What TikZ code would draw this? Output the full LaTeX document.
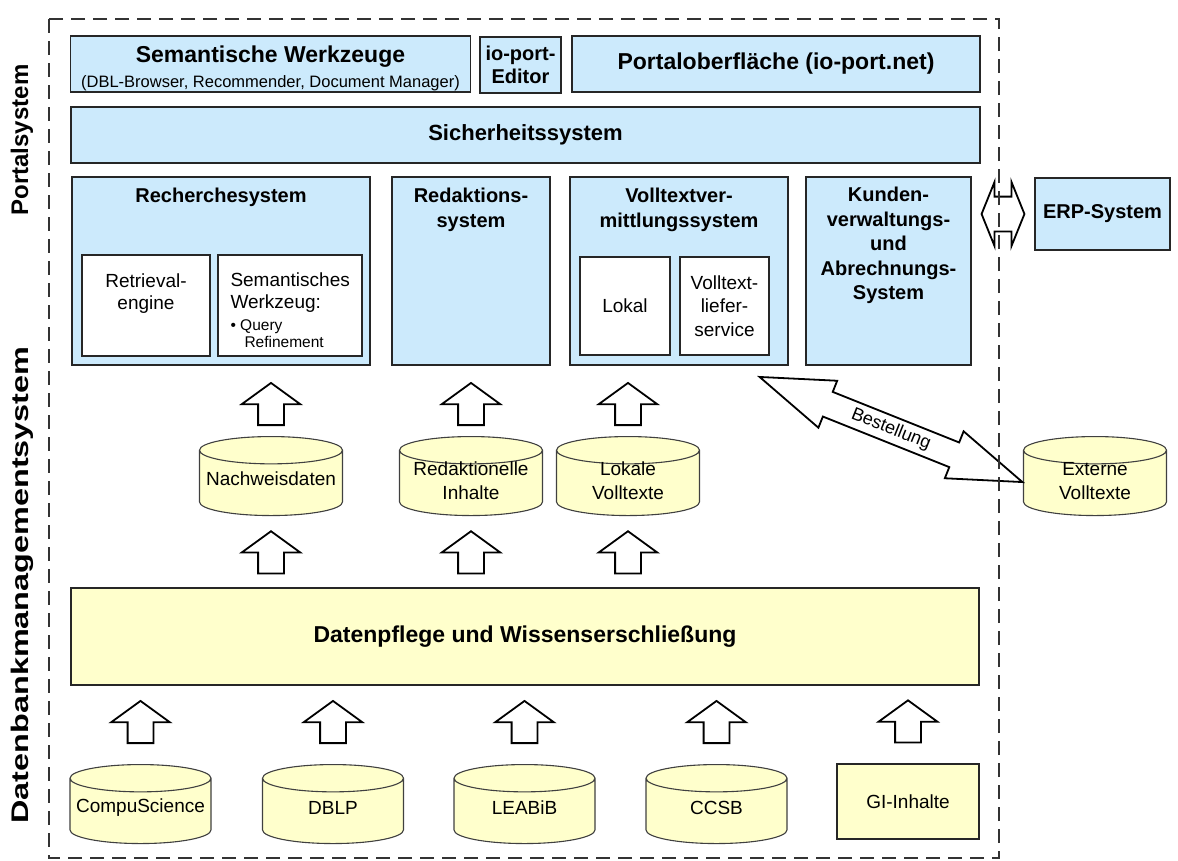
\documentclass[tikz,border=0pt]{standalone}
\usepackage{fontspec}
\setmainfont{Liberation Sans}
\usepackage{graphicx}
\usetikzlibrary{arrows.meta, positioning, shapes.geometric, shapes.arrows, calc}
\definecolor{portalblue}{RGB}{204,234,252}
\definecolor{dbyellow}{RGB}{255,255,204}
\newcommand\dbsize{\phantom{\rule[-4pt]{130pt}{18pt}}}

\begin{document}
\begin{tikzpicture}[x=1pt, y=-1pt,
		box/.style={draw=black!85, line width=1.4pt, fill=portalblue, inner sep=0pt},
		inbox/.style={draw=black!85, line width=1.4pt, fill=white, inner sep=0pt},
		db/.style={cylinder, shape border rotate=90, aspect=0.21, draw=black!75, line width=1.1pt,
			fill=dbyellow, minimum width=143pt, minimum height=79pt, inner sep=0pt, anchor=north},
		uparr/.style={single arrow, rotate=90, draw, line width=1.8pt, fill=white, anchor=tail,
			inner xsep=15.5pt, inner ysep=12pt, single arrow head extend=16.5pt, single arrow tip angle=108},
		bigtxt/.style={font=\fontsize{23}{26}\selectfont\bfseries, align=center},
		headtxt/.style={font=\fontsize{20}{24.5}\selectfont\bfseries, align=center, inner sep=0pt},
		txt/.style={font=\fontsize{19}{22}\selectfont, align=center, inner sep=0pt}]
	
	\useasboundingbox (0,0) rectangle (1178,860);
	
	% Portalsystem
	\node[box, minimum width=400pt, minimum height=56pt] (semw) at (270.5,64) {};
	\node[bigtxt, inner sep=0pt] (semwt) at ([yshift=-4pt]semw.center)
		{Semantische Werkzeuge\\[-1pt]{\fontsize{16.5}{19}\mdseries\selectfont (DBL-Browser, Recommender, Document Manager)}};
	\node[box, font=\fontsize{20}{22.5}\selectfont\bfseries, align=center, minimum width=81pt, minimum height=56pt] (edit) at (520.5,65) {io-port-\\Editor};
	\node[box, bigtxt, minimum width=408pt, minimum height=56pt] (portal) at (776,64) {Portaloberfläche (io-port.net)};
	\node[box, font=\fontsize{22}{26}\selectfont\bfseries, minimum width=909pt, minimum height=56pt] (sicher) at (525.5,135) {Sicherheitssystem};
	
	\node[box, minimum width=298pt, minimum height=188pt] (recher) at (221,271) {};
	\node[headtxt, below=12pt of recher.north] (rechert) {Recherchesystem};
	\node[inbox, minimum width=128pt, minimum height=101pt] (retr) at (146,305.5) {};
	\node[txt, below=19pt of retr.north] (retrt) {Retrieval-\\engine};
	\node[inbox, minimum width=144pt, minimum height=101pt] (semz) at (290,305.5) {};
	\node[txt, align=left, anchor=north west] (semzt) at ([xshift=13pt, yshift=-18pt]semz.north west)
		{Semantisches\\Werkzeug:\\{\fontsize{15.5}{18}\selectfont • Query}\\[-5pt]{\fontsize{15.5}{18}\selectfont\hspace*{14pt}Refinement}};
	
	\node[box, minimum width=158pt, minimum height=188pt] (redak) at (471,271) {};
	\node[headtxt, below=12pt of redak.north] (redakt) {Redaktions-\\system};
	
	\node[box, minimum width=218pt, minimum height=188pt] (vollt) at (679,271) {};
	\node[headtxt, below=12pt of vollt.north] (volltt) {Volltextver-\\mittlungssystem};
	\node[inbox, txt, minimum width=90pt, minimum height=98pt] (lokal) at (625,306) {Lokal};
	\node[inbox, txt, font=\fontsize{19}{23.5}\selectfont, minimum width=89pt, minimum height=98pt] (liefer) at (724.5,306) {Volltext-\\liefer-\\service};
	
	\node[box, minimum width=165pt, minimum height=188pt] (kunden) at (888.5,271) {};
	\node[headtxt, below=11pt of kunden.north] (kundent) {Kunden-\\verwaltungs-\\und\\Abrechnungs-\\System};
	
	\node[box, headtxt, minimum width=135pt, minimum height=72pt] (erp) at (1102.5,214) {ERP-System};
	\node[double arrow, draw, line width=1.8pt, fill=white, inner xsep=13.5pt, inner ysep=16.5pt,
		double arrow head extend=14.5pt, double arrow tip angle=136] (erparr)
		at ($(kunden.east |- erp.west)!0.5!(erp.west)$) {};
	
	% Datenbankmanagementsystem
	\node[db] (nw) at (271,436) {\dbsize};
	\node[db] (redin) at (471,436) {\dbsize};
	\node[db] (lokvt) at (628,436) {\dbsize};
	\node[db] (ext) at (1095,436) {\dbsize};
	\node[txt] (nwt) at ([yshift=-3pt]$(nw.north)!0.5!(nw.south)$) {Nachweisdaten};
	\node[txt, font=\fontsize{19}{24}\selectfont] (redint) at ([yshift=-5pt]$(redin.north)!0.5!(redin.south)$) {Redaktionelle\\Inhalte};
	\node[txt, font=\fontsize{19}{24}\selectfont] (lokvtt) at ([yshift=-5pt]$(lokvt.north)!0.5!(lokvt.south)$) {Lokale\\Volltexte};
	\node[txt, font=\fontsize{19}{24}\selectfont] (extt) at ([yshift=-5pt]$(ext.north)!0.5!(ext.south)$) {Externe\\Volltexte};
	
	\foreach \c in {nw, redin, lokvt}
		\node[uparr] (up-\c) at ([yshift=10pt]\c.north) {};
	
	\node[double arrow, draw, line width=1.8pt, fill=white, rotate=-21.8,
		font=\fontsize{18}{20}\selectfont, inner xsep=60pt, inner ysep=4pt,
		double arrow head extend=12pt, double arrow tip angle=38] (best) at (891,429.5) {Bestellung};
	
	\node[draw=black!85, line width=1.4pt, fill=dbyellow, font=\fontsize{23}{26}\selectfont\bfseries,
		minimum width=908pt, minimum height=97pt] (pflege) at (525,636.5) {Datenpflege und Wissenserschließung};
	
	\foreach \c in {nw, redin, lokvt}
		\node[uparr] (mid-\c) at ([yshift=13pt]pflege.north -| \c) {};
	
	\node[db, minimum width=141pt] (cs) at (140.5,764) {\dbsize};
	\node[db, minimum width=141pt] (dblp) at (333,764) {\dbsize};
	\node[db, minimum width=141pt] (leab) at (524.5,764) {\dbsize};
	\node[db, minimum width=141pt] (ccsb) at (716.5,764) {\dbsize};
	\node[draw=black!85, line width=1.2pt, fill=dbyellow, font=\fontsize{19}{22}\selectfont,
		minimum width=142pt, minimum height=75pt] (gi) at (908,801.5) {GI-Inhalte};
	\foreach \c/\t in {cs/CompuScience, dblp/DBLP, leab/LEABiB, ccsb/CCSB}
		\node[txt] (\c t) at ([yshift=-4pt]$(\c.north)!0.5!(\c.south)$) {\t};
	
	\foreach \c in {cs, dblp, leab, ccsb, gi}
		\node[uparr] (low-\c) at ([yshift=20pt]\c.north) {};
	
	% Rahmen und Beschriftung
	\draw[line width=2pt, black!80, dash pattern=on 14pt off 8pt] (49,19) rectangle (999,858);
	\node[rotate=90, font=\fontsize{24}{24}\selectfont\bfseries] (lportal) at (22,140) {Portalsystem};
	\node[rotate=90, font=\fontsize{24}{24}\selectfont\bfseries] (ldb) at (22,585) {\scalebox{1.35}[1]{Datenbankmanagementsystem}};
	
\end{tikzpicture}
\end{document}
